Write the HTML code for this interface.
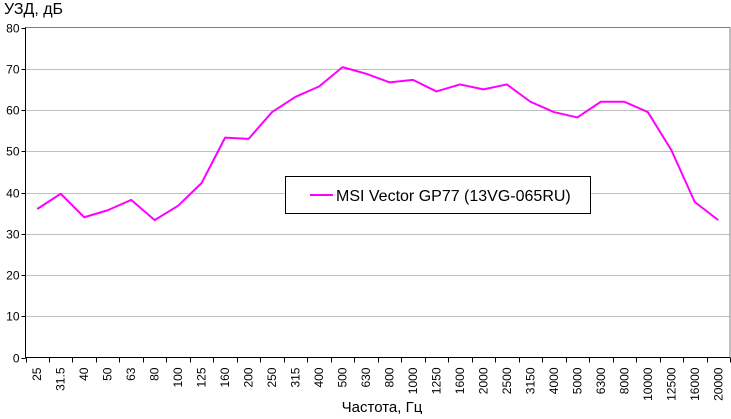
<!DOCTYPE html>
<html><head><meta charset="utf-8"><style>
html,body{margin:0;padding:0;background:#fff;}
svg text{font-family:"Liberation Sans",sans-serif;font-size:12px;fill:#000;}
</style></head><body>
<svg id="chart" width="731" height="414" xmlns="http://www.w3.org/2000/svg">
<g id="grid"></g>
<rect x="25.5" y="27.5" width="704.5" height="330" fill="none" stroke="#808080"/>
<g id="axes"></g>
<polyline id="line" fill="none" stroke="#ff00ff" stroke-width="2" stroke-linejoin="round"/>
<text x="4" y="14" style="font-size:16px">УЗД, дБ</text>
<text x="382" y="412" text-anchor="middle" style="font-size:15px">Частота, Гц</text>
<g>
<rect x="285.5" y="176.5" width="305" height="37" fill="#fff" stroke="#000"/>
<line x1="310" y1="195" x2="333" y2="195" stroke="#ff00ff" stroke-width="2"/>
<text x="336" y="201" style="font-size:16px">MSI Vector GP77 (13VG-065RU)</text>
</g>
</svg>
<script>
const categories=["25","31.5","40","50","63","80","100","125","160","200","250","315","400","500","630","800","1000","1250","1600","2000","2500","3150","4000","5000","6300","8000","10000","12500","16000","20000"];
const values=[36,39.7,34,35.7,38.2,33.3,36.8,42.3,53.3,53,59.5,63.2,65.7,70.4,68.8,66.7,67.3,64.5,66.2,65,66.2,62,59.5,58.2,62,62,59.5,50.3,37.7,33.3];
const yTicks=[0,10,20,30,40,50,60,70,80];
const NS="http://www.w3.org/2000/svg";
const L=25.5,R=730,T=27.5,B=357.5,yMax=80;
const step=(R-L)/categories.length;
const xPos=i=>L+step*(i+0.5);
const yPos=v=>B-(v/yMax)*(B-T);
const grid=document.getElementById('grid'),axes=document.getElementById('axes');
function mk(tag,attrs,parent){const e=document.createElementNS(NS,tag);for(const k in attrs)e.setAttribute(k,attrs[k]);parent.appendChild(e);return e;}
yTicks.forEach(v=>{
  const y=Math.round(yPos(v))+0.5;
  if(v>0&&v<yMax){const g=mk('line',{x1:L,x2:R,y1:y,y2:y,stroke:'#c0c0c0'},grid);
  
  }
  const t=mk('line',{x1:L-4,x2:L,y1:y,y2:y,stroke:'#000'},axes);
  
  
  const tx=mk('text',{x:L-6,y:y+4,'text-anchor':'end'},axes);tx.textContent=v;
  
  
});
const ya=mk('line',{x1:L,x2:L,y1:T,y2:B,stroke:'#000'},axes);


const xa=mk('line',{x1:L,x2:R,y1:B,y2:B,stroke:'#000'},axes);


for(let i=0;i<=categories.length;i++){
  const x=Math.round(L+step*i)+0.5;
  const t=mk('line',{x1:x,x2:x,y1:B,y2:B+5,stroke:'#000'},axes);
  
  
}
categories.forEach((c,i)=>{
  const x=xPos(i)+4,y=B+10;
  const tx=mk('text',{x:x,y:y,'text-anchor':'end',transform:`rotate(-90 ${x} ${y})`},axes);tx.textContent=c;
  
  
});
document.getElementById('line').setAttribute('points',values.map((v,i)=>xPos(i)+','+yPos(v)).join(' '));
</script>
</body></html>
